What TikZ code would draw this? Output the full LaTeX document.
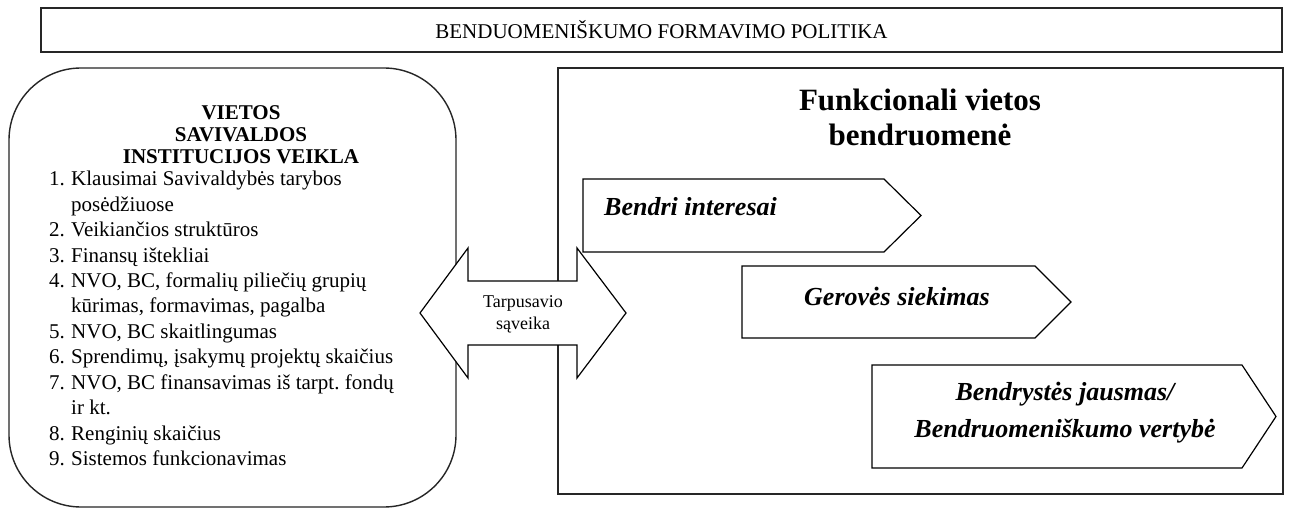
\documentclass[tikz,border=0pt]{standalone}
\usepackage{fontspec}
\setmainfont{Liberation Serif}
\frenchspacing
\begin{document}
\begin{tikzpicture}[x=1pt,y=-1pt,line join=miter]
\tikzset{
  framebox/.style={draw=black!85,line width=1.4pt,inner sep=0pt},
  blockshape/.style={draw=black,line width=1.2pt,fill=white},
  listtxt/.style={anchor=base west,inner sep=0pt,font=\fontsize{21}{25}\selectfont},
  lefttitle/.style={anchor=base,inner sep=0pt,font=\fontsize{21}{25}\selectfont\bfseries},
  arrowlabel/.style={inner sep=0pt,align=center,font=\fontsize{18}{22}\selectfont},
  pentlabel/.style={inner sep=0pt,align=center,font=\fontsize{26}{37}\selectfont\bfseries\itshape},
}
\fill[white] (0,0) rectangle (1290,510);
\useasboundingbox (0,0) rectangle (1290,510);

% banner
\node[framebox,minimum width=1241pt,minimum height=44pt,font=\fontsize{21}{25}\selectfont]
  (banner) at (661.5,30) {BENDUOMENIŠKUMO FORMAVIMO POLITIKA};

% left rounded box
\node[framebox,rounded corners=72pt,minimum width=447pt,minimum height=439pt]
  (leftbox) at (232.5,287.5) {};

\node[lefttitle] (lt1) at (241,120) {VIETOS};
\node[lefttitle] (lt2) at (241,142) {SAVIVALDOS};
\node[lefttitle] (lt3) at (241,164) {INSTITUCIJOS VEIKLA};

\foreach \num/\txt [count=\i] in {
  1./{Klausimai Savivaldybės tarybos},
  {}/{posėdžiuose},
  2./{Veikiančios struktūros},
  3./{Finansų ištekliai},
  4./{NVO, BC, formalių piliečių grupių},
  {}/{kūrimas, formavimas, pagalba},
  5./{NVO, BC skaitlingumas},
  6./{Sprendimų, įsakymų projektų skaičius},
  7./{NVO, BC finansavimas iš tarpt. fondų},
  {}/{ir kt.},
  8./{Renginių skaičius},
  9./{Sistemos funkcionavimas}}
{
  \node[listtxt] (num\i) at (49,{186+25.4*(\i-1)}) {\num};
  \node[listtxt] (item\i) at (71,{186+25.4*(\i-1)}) {\txt};
}

% right box
\node[framebox,minimum width=725pt,minimum height=426pt] (rightbox) at (920.5,281) {};
\node[inner sep=0pt,align=center,font=\fontsize{31}{35}\selectfont\bfseries]
  (rtitle) at (920,117) {Funkcionali vietos\\bendruomenė};

% pentagons
\draw[blockshape] (583,179) -- (884,179) -- (921,215.5) -- (884,252) -- (583,252) -- cycle;
\node[pentlabel,anchor=west] (p1) at (604,207) {Bendri interesai};

\draw[blockshape] (742,266) -- (1035,266) -- (1071,302) -- (1035,338) -- (742,338) -- cycle;
\node[pentlabel] (p2) at (897,296) {Gerovės siekimas};

\draw[blockshape] (872,365) -- (1242,365) -- (1276,416.5) -- (1242,468) -- (872,468) -- cycle;
\node[pentlabel] (p3) at (1065,413) {Bendrystės jausmas/\\Bendruomeniškumo vertybė};

% double arrow
\draw[blockshape] (420,313) -- (468,248) -- (468,281) -- (577,281) -- (577,248) -- (626,313)
  -- (577,378) -- (577,345) -- (468,345) -- (468,378) -- cycle;
\node[arrowlabel] (arrowtxt) at (523,314) {Tarpusavio\\sąveika};
\end{tikzpicture}
\end{document}
